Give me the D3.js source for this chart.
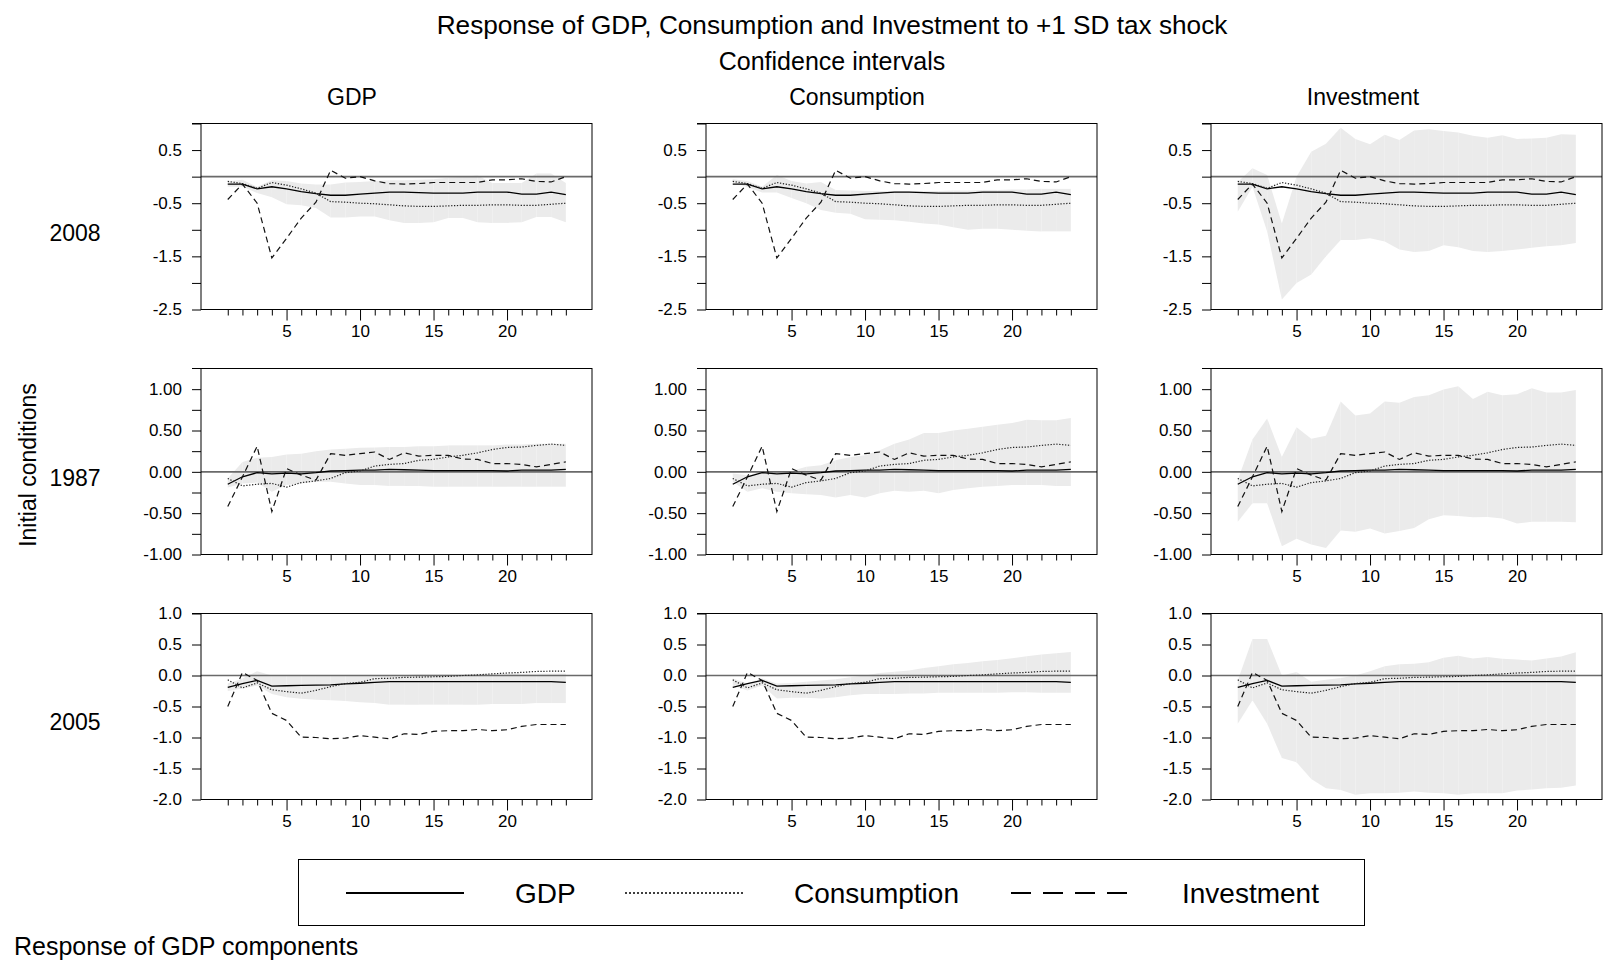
<!DOCTYPE html>
<meta charset="UTF-8">
<head>
<title>Response to tax shock</title>
<style>
body { margin: 0; background: #fff; }
svg text { font-family: Arial, "Liberation Sans", sans-serif; fill: #000; }
.tick text { font-size: 17px; }
.tick line { stroke: #000; }
</style>
</head>
<body>
<script src="https://d3js.org/d3.v7.min.js"></script>
<script>

var periods = d3.range(1, 25);
var xLabels = [5, 10, 15, 20];
var columns = ["GDP", "Consumption", "Investment"];
var rowNames = ["2008", "1987", "2005"];

// 2008 initial conditions
var gdp08  = [-0.14,-0.14,-0.23,-0.19,-0.23,-0.28,-0.32,-0.35,-0.35,-0.33,-0.31,-0.29,-0.29,-0.30,-0.31,-0.31,-0.31,-0.29,-0.29,-0.29,-0.33,-0.33,-0.29,-0.34];
var cons08 = [-0.09,-0.13,-0.22,-0.11,-0.16,-0.23,-0.31,-0.47,-0.48,-0.50,-0.51,-0.53,-0.55,-0.56,-0.56,-0.55,-0.54,-0.54,-0.53,-0.53,-0.54,-0.54,-0.52,-0.50];
var inv08  = [-0.43,-0.14,-0.50,-1.53,-1.16,-0.78,-0.48,0.12,-0.03,0.00,-0.08,-0.13,-0.14,-0.13,-0.11,-0.11,-0.11,-0.11,-0.06,-0.06,-0.04,-0.09,-0.10,0.00];
var gdpLo08  = [-0.19,-0.19,-0.31,-0.39,-0.52,-0.54,-0.59,-0.77,-0.77,-0.75,-0.75,-0.82,-0.87,-0.87,-0.86,-0.78,-0.78,-0.86,-0.87,-0.87,-0.86,-0.76,-0.76,-0.86];
var gdpHi08  = [-0.09,-0.06,-0.19,-0.07,-0.08,-0.13,-0.15,-0.15,-0.11,-0.10,-0.08,-0.07,-0.07,-0.06,-0.05,-0.02,0.00,0.02,-0.12,-0.12,-0.12,0.06,0.06,-0.12];
var consLo08 = [-0.10,-0.20,-0.30,-0.30,-0.40,-0.50,-0.63,-0.68,-0.70,-0.80,-0.81,-0.82,-0.85,-0.88,-0.90,-0.95,-1.00,-0.98,-0.98,-1.00,-1.02,-1.03,-1.03,-1.03];
var consHi08 = [-0.05,-0.08,-0.19,0.03,-0.08,-0.13,-0.10,-0.25,-0.26,-0.27,-0.27,-0.27,-0.27,-0.27,-0.27,-0.26,-0.26,-0.25,-0.25,-0.24,-0.24,-0.23,-0.23,-0.23];
var invLo08  = [-0.66,-0.19,-1.03,-2.31,-2.00,-1.84,-1.50,-1.19,-1.19,-1.16,-1.22,-1.37,-1.42,-1.40,-1.29,-1.33,-1.40,-1.42,-1.40,-1.37,-1.34,-1.31,-1.29,-1.25];
var invHi08  = [-0.10,0.16,0.03,-0.88,0.00,0.47,0.62,0.92,0.71,0.61,0.79,0.69,0.87,0.89,0.86,0.83,0.77,0.73,0.78,0.71,0.72,0.73,0.80,0.79];

// 1987 initial conditions
var gdp87  = [-0.15,-0.06,-0.01,-0.025,-0.015,-0.025,-0.01,0.01,0.015,0.02,0.02,0.03,0.025,0.02,0.015,0.015,0.015,0.015,0.015,0.01,0.02,0.02,0.02,0.03];
var cons87 = [-0.08,-0.17,-0.15,-0.14,-0.185,-0.13,-0.11,-0.08,-0.01,0.01,0.07,0.09,0.10,0.14,0.15,0.18,0.20,0.23,0.27,0.295,0.30,0.32,0.335,0.32];
var inv87  = [-0.42,-0.06,0.31,-0.48,0.04,-0.04,-0.10,0.22,0.20,0.22,0.24,0.15,0.23,0.19,0.20,0.20,0.155,0.15,0.10,0.10,0.09,0.06,0.09,0.12];
var gdpLo87  = [-0.19,-0.14,-0.13,-0.24,-0.16,-0.14,-0.12,-0.12,-0.14,-0.16,-0.16,-0.17,-0.17,-0.17,-0.18,-0.18,-0.18,-0.18,-0.18,-0.18,-0.18,-0.18,-0.18,-0.18];
var gdpHi87  = [-0.08,0.12,0.17,0.18,0.21,0.22,0.25,0.27,0.28,0.29,0.295,0.30,0.30,0.31,0.31,0.32,0.32,0.32,0.32,0.33,0.33,0.34,0.34,0.34];
var consLo87 = [-0.12,-0.24,-0.20,-0.24,-0.26,-0.27,-0.28,-0.31,-0.28,-0.31,-0.26,-0.23,-0.24,-0.23,-0.26,-0.22,-0.20,-0.18,-0.17,-0.16,-0.16,-0.16,-0.17,-0.17];
var consHi87 = [-0.02,-0.04,0.00,0.00,0.01,0.06,0.08,0.14,0.18,0.20,0.26,0.34,0.39,0.47,0.47,0.50,0.52,0.545,0.57,0.59,0.63,0.625,0.625,0.65];
var invLo87  = [-0.605,-0.38,-0.38,-0.90,-0.81,-0.88,-0.92,-0.71,-0.725,-0.685,-0.745,-0.715,-0.68,-0.575,-0.525,-0.535,-0.55,-0.545,-0.565,-0.625,-0.605,-0.605,-0.605,-0.61];
var invHi87  = [-0.10,0.39,0.645,0.18,0.54,0.40,0.435,0.85,0.68,0.705,0.85,0.835,0.905,0.925,0.995,1.035,0.88,0.97,0.925,0.94,1.01,0.96,0.96,0.99];

// 2005 initial conditions
var gdp05  = [-0.19,-0.13,-0.08,-0.17,-0.165,-0.16,-0.155,-0.15,-0.135,-0.125,-0.11,-0.10,-0.10,-0.10,-0.10,-0.10,-0.10,-0.10,-0.10,-0.10,-0.10,-0.10,-0.10,-0.11];
var cons05 = [-0.07,-0.20,-0.12,-0.23,-0.26,-0.285,-0.24,-0.18,-0.13,-0.11,-0.05,-0.045,-0.03,-0.027,-0.02,-0.015,0.00,0.01,0.027,0.04,0.05,0.065,0.07,0.07];
var inv05  = [-0.50,0.05,-0.08,-0.61,-0.725,-0.995,-1.00,-1.02,-1.01,-0.97,-0.995,-1.02,-0.94,-0.95,-0.90,-0.89,-0.89,-0.87,-0.89,-0.875,-0.82,-0.79,-0.79,-0.79];
var gdpLo05  = [-0.25,-0.215,-0.16,-0.30,-0.35,-0.375,-0.39,-0.40,-0.41,-0.43,-0.445,-0.47,-0.47,-0.47,-0.47,-0.47,-0.47,-0.47,-0.46,-0.46,-0.46,-0.445,-0.445,-0.445];
var gdpHi05  = [-0.13,-0.05,0.07,0.00,0.00,0.00,0.00,0.00,0.00,0.01,0.01,0.01,0.01,0.02,0.02,0.02,0.02,0.03,0.03,0.03,0.03,0.03,0.03,0.03];
var consLo05 = [-0.16,-0.24,-0.16,-0.37,-0.36,-0.36,-0.37,-0.35,-0.32,-0.30,-0.30,-0.30,-0.29,-0.29,-0.28,-0.28,-0.28,-0.28,-0.28,-0.27,-0.27,-0.28,-0.28,-0.28];
var consHi05 = [-0.05,-0.13,-0.05,-0.13,-0.12,-0.10,-0.08,-0.06,-0.03,0.00,0.04,0.06,0.08,0.12,0.15,0.18,0.20,0.23,0.25,0.28,0.31,0.34,0.36,0.38];
var invLo05  = [-0.78,-0.40,-0.78,-1.33,-1.40,-1.67,-1.82,-1.845,-1.925,-1.90,-1.90,-1.89,-1.87,-1.89,-1.90,-1.925,-1.90,-1.90,-1.90,-1.855,-1.84,-1.82,-1.81,-1.775];
var invHi05  = [-0.08,0.59,0.59,0.00,0.055,-0.10,-0.07,-0.04,0.00,0.07,0.15,0.18,0.19,0.215,0.285,0.32,0.275,0.30,0.27,0.26,0.24,0.275,0.305,0.375];

// y axis ticks and labels per row
var yTicks08 = [-2.5,-2.0,-1.5,-1.0,-0.5,0.0,0.5,1.0];
var yLabels08 = ["-2.5","-1.5","-0.5","0.5"];
var yTicks87 = [-1.0,-0.75,-0.5,-0.25,0.0,0.25,0.5,0.75,1.0];
var yLabels87 = ["-1.00","-0.50","0.00","0.50","1.00"];
var yTicks05 = [-2.0,-1.5,-1.0,-0.5,0.0,0.5,1.0];
var yLabels05 = ["-2.0","-1.5","-1.0","-0.5","0.0","0.5","1.0"];

var rows = [
  {name: rowNames[0], dom: [-2.5, 1.0], ticks: yTicks08, labels: yLabels08, dec: 1,
   lines: [gdp08, cons08, inv08], bands: [[gdpLo08, gdpHi08], [consLo08, consHi08], [invLo08, invHi08]]},
  {name: rowNames[1], dom: [-1.0, 1.25], ticks: yTicks87, labels: yLabels87, dec: 2,
   lines: [gdp87, cons87, inv87], bands: [[gdpLo87, gdpHi87], [consLo87, consHi87], [invLo87, invHi87]]},
  {name: rowNames[2], dom: [-2.0, 1.0], ticks: yTicks05, labels: yLabels05, dec: 1,
   lines: [gdp05, cons05, inv05], bands: [[gdpLo05, gdpHi05], [consLo05, consHi05], [invLo05, invHi05]]}
];

var colLeft = [201, 706, 1211],
    rowTop = [123.5, 368.5, 613.5],
    pw = 391, ph = 186;

var lineStyles = [
  {dash: null, width: 1.3, color: "#000"},
  {dash: "1.3,1.6", width: 1.2, color: "#222"},
  {dash: "6,4", width: 1.2, color: "#111"}
];

var svg = d3.select("body").append("svg")
    .attr("width", 1604)
    .attr("height", 961);

svg.append("text").attr("x", 832).attr("y", 34).attr("text-anchor", "middle")
    .style("font-size", "26.2px").text("Response of GDP, Consumption and Investment to +1 SD tax shock");
svg.append("text").attr("x", 832).attr("y", 70).attr("text-anchor", "middle")
    .style("font-size", "25px").text("Confidence intervals");

var headX = [352, 857, 1363];
columns.forEach(function(c, i) {
  svg.append("text").attr("x", headX[i]).attr("y", 105).attr("text-anchor", "middle")
      .style("font-size", "23px").text(c);
});

var rowLabelY = [233, 478, 722];
rows.forEach(function(r, i) {
  svg.append("text").attr("x", 75).attr("y", rowLabelY[i]).attr("dy", "0.35em")
      .attr("text-anchor", "middle").style("font-size", "23px").text(r.name);
});

svg.append("text")
    .attr("transform", "translate(28,465) rotate(-90)")
    .attr("text-anchor", "middle").attr("dy", "0.35em")
    .style("font-size", "23px").text("Initial conditions");

var x = d3.scaleLinear().domain([-0.82, 25.78]).range([0, pw]);

rows.forEach(function(r, ri) {
  var y = d3.scaleLinear().domain(r.dom).range([ph, 0]);

  columns.forEach(function(c, ci) {
    var g = svg.append("g")
        .attr("transform", "translate(" + colLeft[ci] + "," + rowTop[ri] + ")");

    var band = periods.map(function(t, i) {
      return {t: t, lo: r.bands[ci][0][i], hi: r.bands[ci][1][i]};
    });
    var area = d3.area()
        .x(function(d) { return x(d.t); })
        .y0(function(d) { return y(d.lo); })
        .y1(function(d) { return y(d.hi); });

    // one piece per period, like the original
    for (var i = 0; i < band.length - 1; i++) {
      g.append("path")
          .attr("d", area(band.slice(i, i + 2)))
          .attr("fill", "#ebebeb");
    }

    g.append("line")
        .attr("x1", 0).attr("x2", pw)
        .attr("y1", y(0)).attr("y2", y(0))
        .attr("stroke", "#6a6a6a").attr("stroke-width", 1.6);

    r.lines.forEach(function(vals, li) {
      var s = lineStyles[li];
      var line = d3.line()
          .x(function(d, i) { return x(periods[i]); })
          .y(function(d) { return y(d); });
      g.append("path")
          .attr("d", line(vals))
          .attr("fill", "none")
          .attr("stroke", s.color)
          .attr("stroke-width", s.width)
          .attr("stroke-dasharray", s.dash);
    });

    var xAxis = g.append("g")
        .attr("transform", "translate(0," + ph + ")")
        .call(d3.axisBottom(x).tickValues(periods).tickSize(6).tickSizeOuter(0).tickPadding(9)
          .tickFormat(function(d) { return xLabels.indexOf(d) >= 0 ? d : ""; }));
    xAxis.select(".domain").remove();
    xAxis.selectAll(".tick line")
        .attr("y2", function(d) { return xLabels.indexOf(d) >= 0 ? 11 : 6; });

    var yAxis = g.append("g")
        .call(d3.axisLeft(y).tickValues(r.ticks).tickSize(9).tickSizeOuter(0).tickPadding(10)
          .tickFormat(function(d) {
            var s = d.toFixed(r.dec);
            return r.labels.indexOf(s) >= 0 ? s : "";
          }));
    yAxis.select(".domain").remove();

    g.append("rect")
        .attr("x", 0).attr("y", 0)
        .attr("width", pw).attr("height", ph)
        .attr("fill", "none")
        .attr("stroke", "#000").attr("stroke-width", 1);
    g.append("line")
        .attr("x1", -9).attr("x2", 0).attr("y1", 0).attr("y2", 0)
        .attr("stroke", "#000");
  });
});

// legend
var legend = svg.append("g");
legend.append("rect")
    .attr("x", 298.5).attr("y", 859.5).attr("width", 1066).attr("height", 66)
    .attr("fill", "none").attr("stroke", "#000").attr("stroke-width", 1);

var legX = [346, 625, 1011], legTextX = [515, 794, 1182];
var legDash = [null, "2,2", "20,12"];
columns.forEach(function(c, i) {
  legend.append("line")
      .attr("x1", legX[i]).attr("x2", legX[i] + 118)
      .attr("y1", 893).attr("y2", 893)
      .attr("stroke", "#000").attr("stroke-width", i == 1 ? 1.6 : 2)
      .attr("stroke-dasharray", legDash[i]);
  legend.append("text")
      .attr("x", legTextX[i]).attr("y", 893).attr("dy", "0.35em")
      .style("font-size", "28px").text(c);
});

svg.append("text").attr("x", 14).attr("y", 946).attr("dy", "0.35em")
    .style("font-size", "25px").text("Response of GDP components");

</script>
</body>
</html>
